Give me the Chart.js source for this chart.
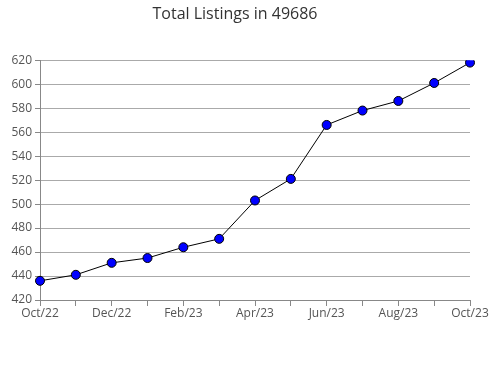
<!DOCTYPE html>
<html>
<head>
<meta charset="utf-8">
<script src="https://cdn.jsdelivr.net/npm/chart.js@4"></script>
<style>
  html, body { margin: 0; padding: 0; background: #fff; }
  #wrap { width: 490px; height: 380px; }
</style>
</head>
<body>
<div id="wrap"><canvas id="listingsChart"></canvas></div>
<script>
// Total listings, monthly
var months = ['Oct/22', 'Nov/22', 'Dec/22', 'Jan/23', 'Feb/23', 'Mar/23', 'Apr/23',
              'May/23', 'Jun/23', 'Jul/23', 'Aug/23', 'Sep/23', 'Oct/23'];
var listings = [436, 441, 451, 455, 464, 471, 503, 521, 566, 578, 586, 601, 618];
var yMin = 420, yMax = 620;

var ctxEl = document.getElementById('listingsChart');
if (ctxEl) {
    new Chart(ctxEl.getContext('2d'), {
        type: 'line',
        data: {
            labels: months,
            datasets: [{
                label: 'Total Listings',
                data: listings,
                borderColor: '#000', borderWidth: 1,
                pointBackgroundColor: '#0000ff', pointBorderColor: '#000', pointBorderWidth: 1,
                pointRadius: 4.5, pointStyle: 'circle', tension: 0
            }]
        },
        options: {
            responsive: true, maintainAspectRatio: false, animation: false,
            layout: { padding: { left: 0, right: 20, top: 0, bottom: 0 } },
            plugins: {
                legend: { display: false },
                tooltip: { enabled: false },
                title: {
                    display: true, text: 'Total Listings in 49686',
                    color: '#333', font: { family: 'Open Sans', size: 16, weight: 'normal' },
                    padding: { top: 5, bottom: 36 }
                }
            },
            scales: {
                x: {
                    offset: false,
                    border: { color: '#888' },
                    grid: { drawOnChartArea: false, drawTicks: true, tickLength: 6, tickColor: '#888' },
                    ticks: {
                        autoSkip: false, maxRotation: 0, padding: 0,
                        color: '#555', font: { family: 'Open Sans', size: 12 },
                        callback: function (v, i) { return i % 2 === 0 ? months[i] : ''; }
                    },
                    afterFit: function (s) { s.height = 80; }
                },
                y: {
                    min: yMin, max: yMax,
                    border: { color: '#888' },
                    grid: {
                        color: function (c) { return c.tick && c.tick.value % 20 === 0 ? '#aaa' : 'rgba(0,0,0,0)'; },
                        tickColor: '#888', tickLength: 5
                    },
                    ticks: {
                        stepSize: 10, padding: 3,
                        color: '#555', font: { family: 'Open Sans', size: 12 },
                        callback: function (v) { return v % 20 === 0 ? v : ''; }
                    },
                    afterFit: function (s) { s.width = 40; }
                }
            }
        }
    });
}
</script>
</body>
</html>
